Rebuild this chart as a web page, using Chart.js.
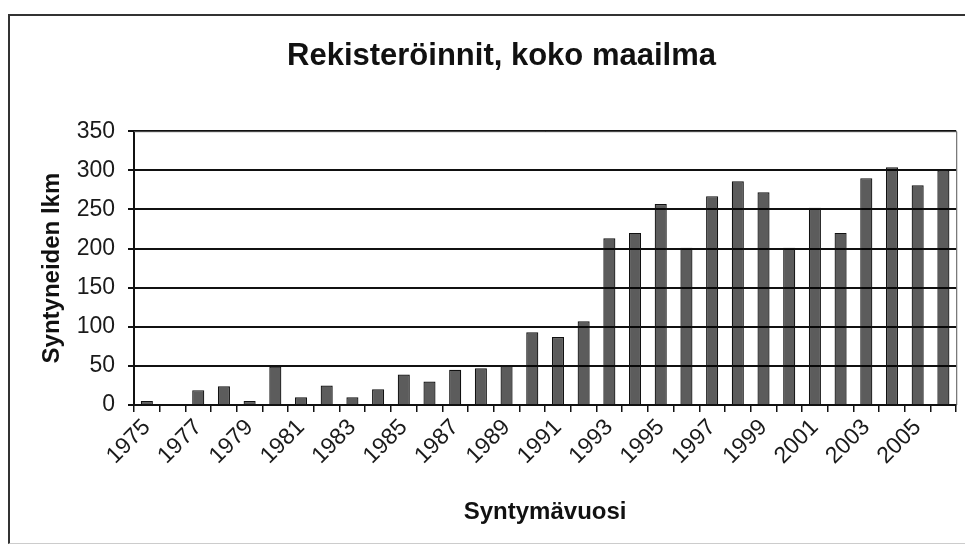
<!DOCTYPE html>
<html>
<head>
<meta charset="utf-8">
<script src="https://cdn.jsdelivr.net/npm/chart.js@4.4.0/dist/chart.umd.min.js"></script>
<style>
  html, body { margin: 0; padding: 0; background: #fff; }
  #wrap { position: relative; width: 965px; height: 549px; overflow: hidden; }
  #frame { position: absolute; left: 8px; top: 14px; width: 1000px; height: 530px;
           border-left: 2px solid #333; border-top: 2px solid #333; border-bottom: 1px solid #ccc; box-sizing: border-box; }
  canvas { position: absolute; left: 0; top: 0; }
</style>
</head>
<body>
<div id="wrap">
  <div id="frame"></div>
  <canvas id="c" width="965" height="549"></canvas>
</div>
<script>
const categories = ['1975','1976','1977','1978','1979','1980','1981','1982','1983','1984',
  '1985','1986','1987','1988','1989','1990','1991','1992','1993','1994','1995','1996',
  '1997','1998','1999','2000','2001','2002','2003','2004','2005','2006'];
const registrations = [5, 0, 19, 24, 5, 49, 10, 25, 10, 20, 39, 30, 45, 47, 50, 93, 87, 107,
  213, 220, 257, 201, 267, 286, 272, 201, 252, 220, 290, 304, 281, 300];
const tickLabels = ['1975','1977','1979','1981','1983','1985','1987','1989','1991','1993',
  '1995','1997','1999','2001','2003','2005'];
const yTicks = [0, 50, 100, 150, 200, 250, 300, 350];

const FONT = '"Liberation Sans", Arial, Helvetica, sans-serif';

const plotBorder = {
  id: 'plotBorder',
  afterDatasetsDraw(chart) {
    const {ctx, chartArea: a} = chart;
    ctx.save();
    ctx.strokeStyle = '#555';
    ctx.lineWidth = 1;
    ctx.beginPath();
    ctx.moveTo(a.left, a.top + 0.5);
    ctx.lineTo(a.right + 0.5, a.top + 0.5);
    ctx.lineTo(a.right + 0.5, a.bottom);
    ctx.stroke();
    ctx.restore();
  }
};

new Chart(document.getElementById('c'), {
  type: 'bar',
  data: {
    labels: categories,
    datasets: [{
      label: 'Rekisteröinnit',
      data: registrations,
      backgroundColor: 'rgba(0,0,0,0.64)',
      borderColor: '#111',
      borderWidth: 1.2,
      barPercentage: 0.47,
      categoryPercentage: 1.0
    }]
  },
  options: {
    responsive: false,
    animation: false,
    layout: { padding: { left: 45, right: 7, top: 0, bottom: 10 } },
    plugins: {
      legend: { display: false },
      tooltip: { enabled: false },
      title: {
        display: true,
        text: 'Rekisteröinnit, koko maailma',
        color: '#111',
        font: { family: FONT, size: 31, weight: 'bold', lineHeight: 1.2 },
        padding: { top: 38, bottom: 56 }
      }
    },
    scales: {
      x: {
        offset: true,
        grid: { display: true, drawOnChartArea: false, drawTicks: true, tickLength: 7, color: '#111', lineWidth: 1.5, offset: true },
        border: { display: true, color: '#111', width: 2 },
        ticks: {
          autoSkip: false,
          minRotation: 45,
          maxRotation: 45,
          padding: 2,
          color: '#1a1a1a',
          font: { family: FONT, size: 23 },
          callback: function(value, index) {
            const lab = categories[index];
            return tickLabels.includes(lab) ? lab : '';
          }
        },
        title: {
          display: true,
          text: 'Syntymävuosi',
          color: '#111',
          font: { family: FONT, size: 24, weight: 'bold', lineHeight: 1.2 },
          padding: { top: 12, bottom: 12 }
        },
        afterFit: s => { s.height = 134; }
      },
      y: {
        min: 0,
        max: 350,
        afterBuildTicks: s => { s.ticks = yTicks.map(v => ({ value: v })); },
        grid: { color: '#111', lineWidth: 2, drawTicks: true, tickLength: 6 },
        border: { display: true, color: '#111', width: 2 },
        ticks: {
          padding: 13,
          color: '#1a1a1a',
          font: { family: FONT, size: 23 }
        },
        title: {
          display: true,
          text: 'Syntyneiden lkm',
          color: '#111',
          font: { family: FONT, size: 24, weight: 'bold', lineHeight: 1.2 },
          padding: { top: -7, bottom: 0 }
        },
        afterFit: s => { s.width = 89; }
      }
    }
  },
  plugins: [plotBorder]
});
</script>
</body>
</html>
